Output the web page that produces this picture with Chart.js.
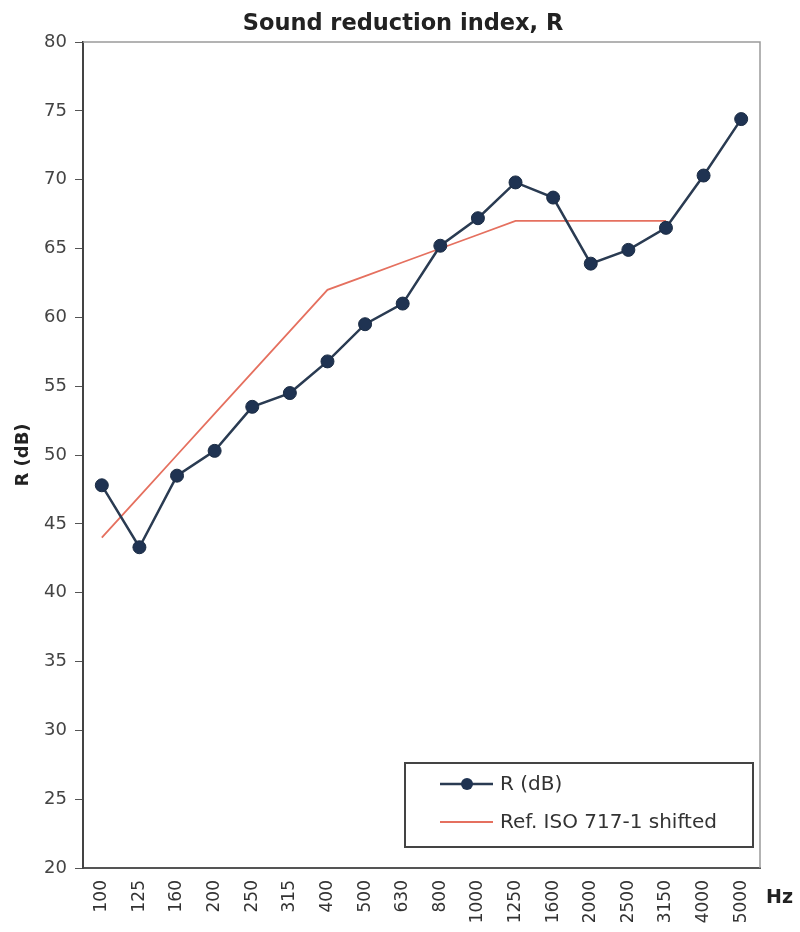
<!DOCTYPE html>
<html>
<head>
	<meta charset="utf-8">
	<title>Sound reduction index, R</title>
	<style>
		body { margin: 0; background: #fff; }
		#wrap { width: 800px; height: 932px; }
	</style>
</head>
<body>
	<div id="wrap"><canvas id="chart" width="800" height="932"></canvas></div>

	<script src="https://cdn.jsdelivr.net/npm/chart.js"></script>
	<script>
	// data
	var freqs = ['100', '125', '160', '200', '250', '315', '400', '500', '630', '800',
		'1000', '1250', '1600', '2000', '2500', '3150', '4000', '5000'];
	var rValues = [47.8, 43.3, 48.5, 50.3, 53.5, 54.5, 56.8, 59.5, 61.0, 65.2,
		67.2, 69.8, 68.7, 63.9, 64.9, 66.5, 70.3, 74.4];
	var refValues = [44, 47, 50, 53, 56, 59, 62, 63, 64, 65,
		66, 67, 67, 67, 67, 67, null, null];
	var yTicks = [20, 25, 30, 35, 40, 45, 50, 55, 60, 65, 70, 75, 80];

	var font = '"DejaVu Sans", Verdana, sans-serif';

	// title, frame, legend box and the "Hz" unit label
	var extras = {
		id: 'extras',
		beforeDatasetsDraw: function (chart) {
			var a = chart.chartArea, ctx = chart.ctx;
			ctx.save();
			ctx.strokeStyle = '#9a9a9a';
			ctx.lineWidth = 1.5;
			ctx.beginPath();
			ctx.moveTo(a.left, a.top);
			ctx.lineTo(a.right, a.top);
			ctx.lineTo(a.right, a.bottom);
			ctx.stroke();
			ctx.restore();
		},
		afterDraw: function (chart) {
			var a = chart.chartArea, ctx = chart.ctx;
			ctx.save();
			// title
			ctx.fillStyle = '#222';
			ctx.font = 'bold 22.5px ' + font;
			ctx.textAlign = 'center';
			ctx.textBaseline = 'alphabetic';
			ctx.fillText('Sound reduction index, R', 403, 30);

			// unit label
			ctx.font = 'bold 19px ' + font;
			ctx.textBaseline = 'middle';
			ctx.textAlign = 'left';
			ctx.fillText('Hz', a.right + 6, a.bottom + 30);

			// legend
			var bw = 348, bh = 84;
			var bx = a.right - 355, by = a.bottom - 105;
			ctx.fillStyle = '#fff';
			ctx.fillRect(bx, by, bw, bh);
			ctx.strokeStyle = '#444';
			ctx.lineWidth = 2;
			ctx.strokeRect(bx, by, bw, bh);

			var ds = chart.data.datasets;
			ctx.font = '20px ' + font;
			ctx.textBaseline = 'middle';
			for (var i = 0; i < ds.length; i++) {
				var ly = by + 21 + i * 38;
				ctx.strokeStyle = ds[i].borderColor;
				ctx.lineWidth = ds[i].borderWidth;
				ctx.beginPath();
				ctx.moveTo(bx + 35, ly);
				ctx.lineTo(bx + 88, ly);
				ctx.stroke();
				if (ds[i].pointRadius > 0) {
					ctx.fillStyle = ds[i].pointBackgroundColor;
					ctx.beginPath();
					ctx.arc(bx + 62, ly, 6, 0, Math.PI * 2);
					ctx.fill();
				}
				ctx.fillStyle = '#333';
				ctx.fillText(ds[i].label, bx + 95, ly + 1);
			}
			ctx.restore();
		}
	};

	new Chart(document.getElementById('chart'), {
		type: 'line',
		data: {
			labels: freqs,
			datasets: [{
				label: 'R (dB)',
				data: rValues,
				borderColor: '#2a3b52',
				borderWidth: 2.5,
				pointRadius: 6.5,
				pointBackgroundColor: '#1f3352',
				pointBorderColor: '#1b2c44',
				pointBorderWidth: 1,
				tension: 0,
				order: 1
			}, {
				label: 'Ref. ISO 717-1 shifted',
				data: refValues,
				borderColor: '#e5705f',
				borderWidth: 1.8,
				pointRadius: 0,
				tension: 0,
				spanGaps: false,
				order: 2
			}]
		},
		options: {
			responsive: false,
			animation: false,
			layout: { padding: { left: 0, right: 40, top: 42, bottom: 0 } },
			plugins: {
				legend: { display: false },
				tooltip: { enabled: false },
				title: { display: false }
			},
			scales: {
				x: {
					offset: true,
					afterFit: function (s) { s.height = 64; },
					grid: { display: false, offset: true },
					border: { display: true, color: '#555', width: 2 },
					ticks: {
						autoSkip: false,
						maxRotation: 90,
						minRotation: 90,
						color: '#333',
						padding: 4,
						font: { family: font, size: 17 }
					}
				},
				y: {
					min: 20,
					max: 80,
					afterFit: function (s) { s.width = 83; },
					afterBuildTicks: function (s) {
						s.ticks = yTicks.map(function (v) { return { value: v }; });
					},
					grid: { drawOnChartArea: false, tickLength: 8, color: '#555' },
					border: { display: true, color: '#444', width: 2 },
					title: {
						display: true,
						text: 'R (dB)',
						color: '#222',
						font: { family: font, size: 18, weight: 'bold' },
						padding: { top: 13, bottom: 4 }
					},
					ticks: {
						color: '#444',
						padding: 8,
						font: { family: font, size: 18 }
					}
				}
			}
		},
		plugins: [extras]
	});
	</script>
</body>
</html>
